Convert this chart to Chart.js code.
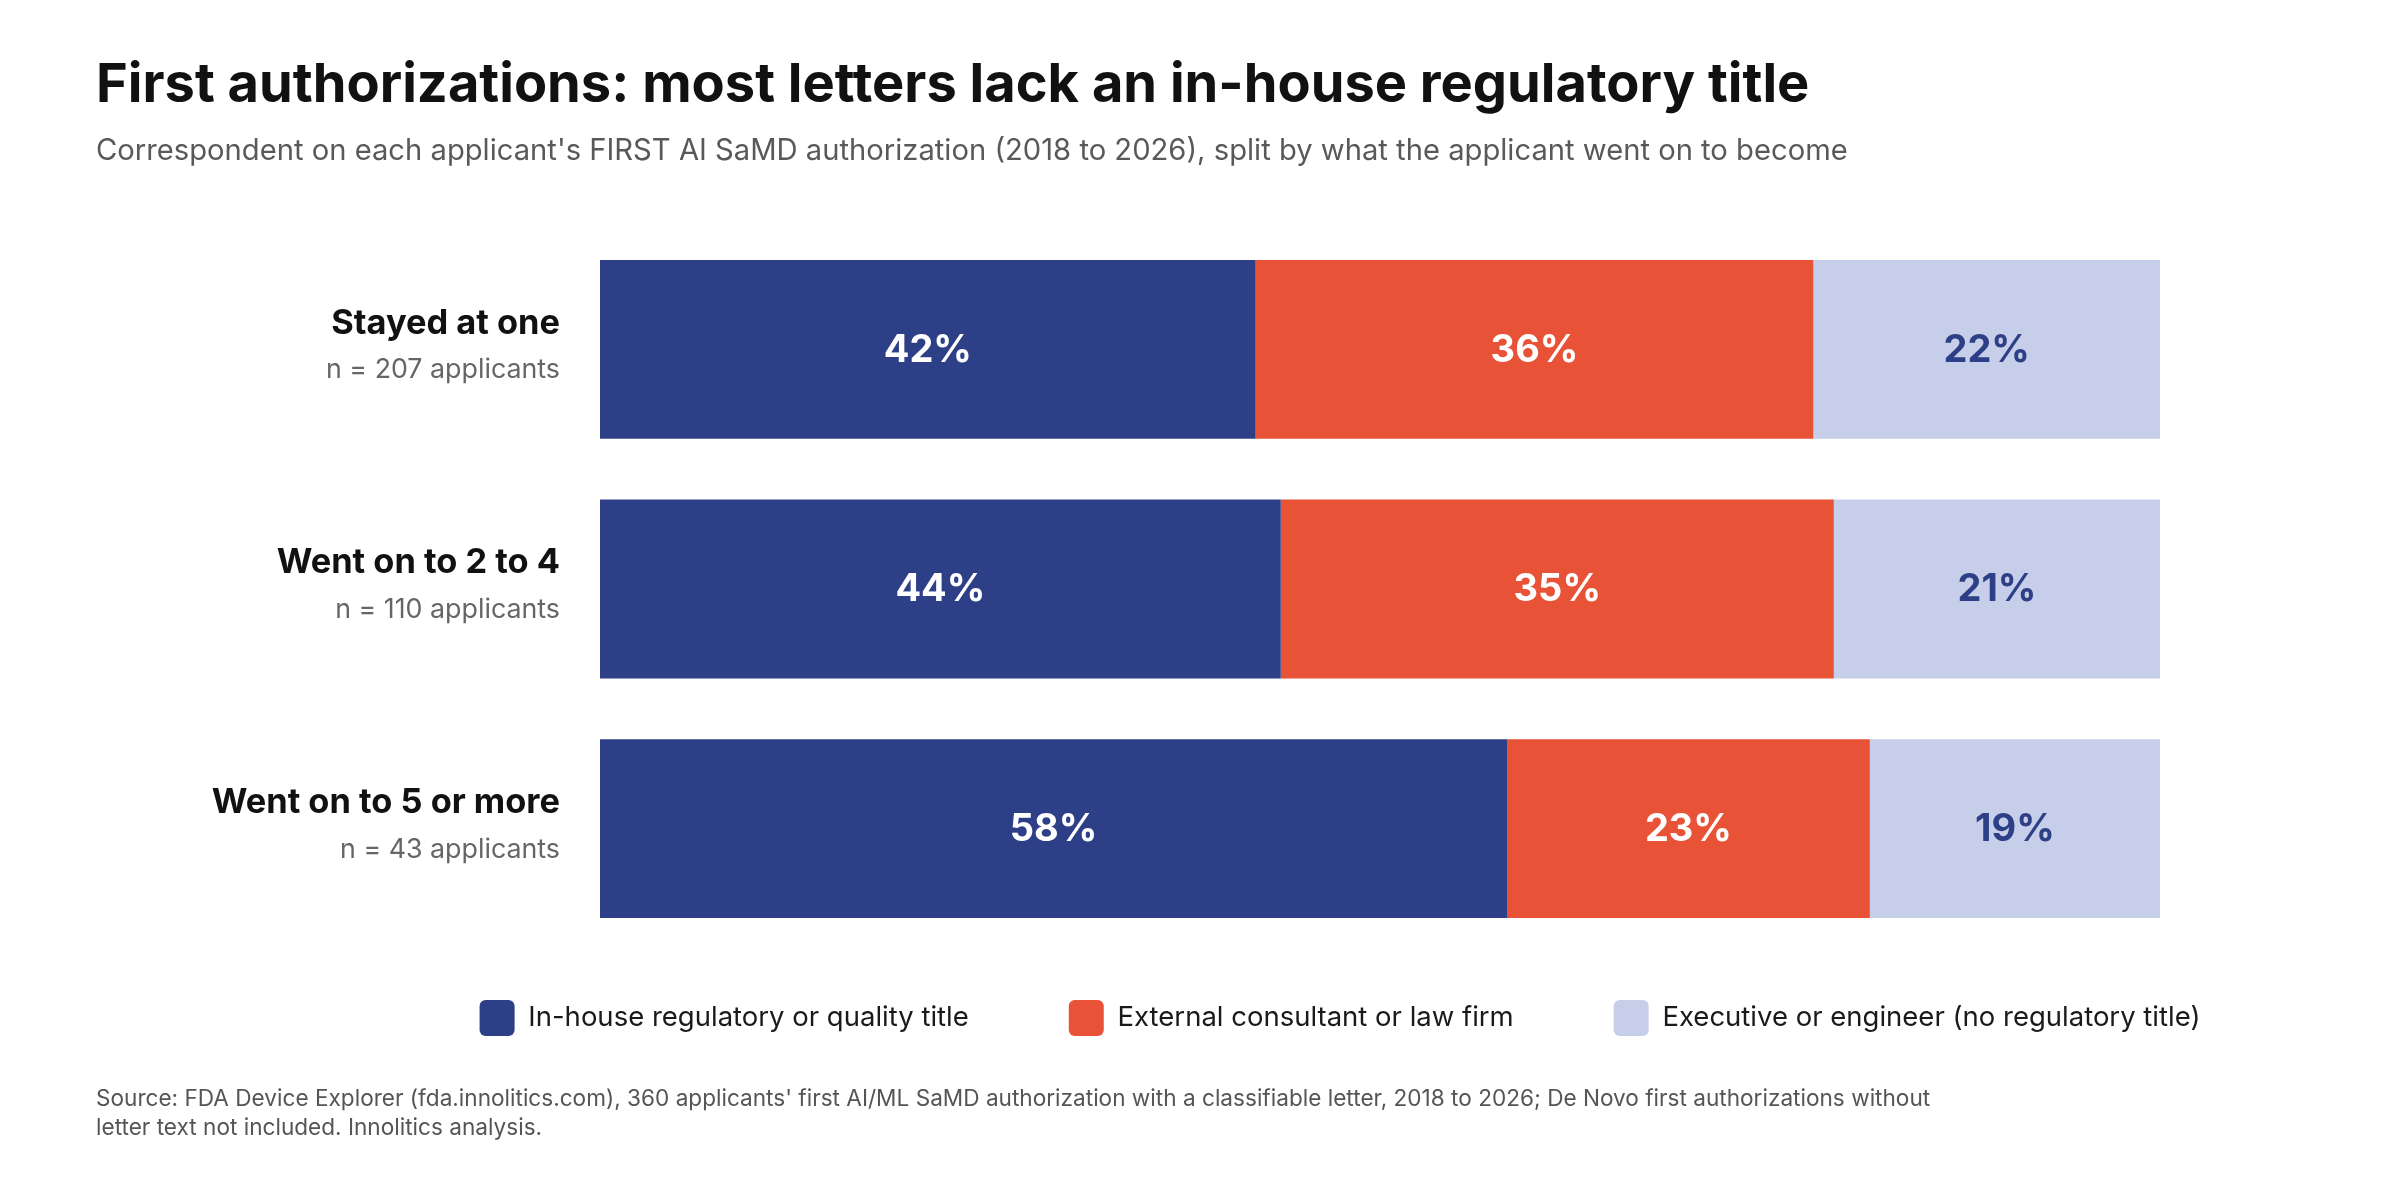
<!DOCTYPE html>
<html><head><meta charset="utf-8">
<script src="https://cdn.jsdelivr.net/npm/chart.js@4.4.1/dist/chart.umd.min.js"></script>
<style>html,body{margin:0;padding:0;background:#fff;} #wrap{width:2400px;height:1180px;position:relative;}</style>
</head><body><div id="wrap"><canvas id="c"></canvas></div>
<script>
const categories = ['Stayed at one', 'Went on to 2 to 4', 'Went on to 5 or more'];
const sampleLabels = ['n = 207 applicants', 'n = 110 applicants', 'n = 43 applicants'];
const seriesNames = ['In-house regulatory or quality title', 'External consultant or law firm', 'Executive or engineer (no regulatory title)'];
// shares in percent (labels show rounded values)
const inHouse = [42.03, 43.64, 58.14];
const external = [35.75, 35.45, 23.26];
const executive = [22.22, 20.91, 18.60];
const titleText = 'First authorizations: most letters lack an in-house regulatory title';
const subtitleText = "Correspondent on each applicant's FIRST AI SaMD authorization (2018 to 2026), split by what the applicant went on to become";
const sourceLines = [
  "Source: FDA Device Explorer (fda.innolitics.com), 360 applicants' first AI/ML SaMD authorization with a classifiable letter, 2018 to 2026; De Novo first authorizations without",
  "letter text not included. Innolitics analysis."
];

const FONT = 'Inter';
const NAVY = '#2D3F86', RED = '#E85236', LAV = '#C7CEEA';
function fit(text, weight, target) {
  const ctx = document.createElement('canvas').getContext('2d');
  ctx.font = weight + ' 100px "' + FONT + '"';
  return Math.round(1000 * target / ctx.measureText(text).width) / 10;
}
const titleSize = fit(titleText, 'bold', 1715);
const subSize = fit(subtitleText, 'normal', 1753);
const catSize = fit('Went on to 2 to 4', 'bold', 283);
const nSize = fit('n = 110 applicants', 'normal', 225);
const legendSize = fit(seriesNames[0], 'normal', 440);
const footSize = fit(sourceLines[0], 'normal', 1836);

const padTop = 30;
const tpt = 86 - padTop - titleSize * 0.6, tpb = 10;
const titleBottom = padTop + tpt + titleSize * 1.2 + tpb;
const spt = 151 - titleBottom - subSize * 0.6;
const spb = 229.5 - (titleBottom + spt + subSize * 1.2);

const legendPad = 100;
const legendBoxH = 36;
const legendHeight = legendBoxH + legendPad + 10;
const padBottom = 1180 - 948.5 - legendHeight;

const legendPlacePlugin = {
  id: 'legendPlace',
  afterLayout(chart) {
    const l = chart.legend;
    const dx = 1340 - (l.left + l.right) / 2;
    const dy = (l.top + legendPad) - 1000;
    l.left += dx; l.right += dx;
    l.top -= dy; l.bottom -= dy;
  }
};
const sampleLabelPlugin = {
  id: 'sampleLabels',
  afterDraw(chart) {
    const y = chart.scales.y, ctx = chart.ctx;
    ctx.save();
    ctx.font = 'normal ' + nSize + 'px "' + FONT + '"';
    ctx.fillStyle = '#666666';
    ctx.textAlign = 'right';
    ctx.textBaseline = 'middle';
    sampleLabels.forEach((t, i) => ctx.fillText(t, chart.chartArea.left - 40, y.getPixelForValue(i) + 21));
    ctx.restore();
  }
};
const barLabelPlugin = {
  id: 'barLabels',
  afterDatasetsDraw(chart) {
    const ctx = chart.ctx;
    const colors = ['#ffffff', '#ffffff', NAVY];
    ctx.save();
    ctx.font = 'bold 38px "' + FONT + '"';
    ctx.textAlign = 'center';
    ctx.textBaseline = 'middle';
    chart.data.datasets.forEach((ds, di) => {
      const meta = chart.getDatasetMeta(di);
      ctx.fillStyle = colors[di];
      meta.data.forEach((el, i) => {
        const p = el.getCenterPoint();
        ctx.fillText(Math.round(ds.data[i]) + '%', p.x, p.y + 1);
      });
    });
    ctx.restore();
  }
};
const footerPlugin = {
  id: 'footer',
  afterDraw(chart) {
    const ctx = chart.ctx;
    ctx.save();
    ctx.font = 'normal ' + footSize + 'px "' + FONT + '"';
    ctx.fillStyle = '#555555';
    ctx.textAlign = 'left';
    ctx.textBaseline = 'middle';
    sourceLines.forEach((t, i) => ctx.fillText(t, 96, chart.height - 81 + i * 29));
    ctx.restore();
  }
};

new Chart(document.getElementById('c'), {
  type: 'bar',
  data: {
    labels: categories,
    datasets: [
      { label: seriesNames[0], data: inHouse, backgroundColor: NAVY },
      { label: seriesNames[1], data: external, backgroundColor: RED },
      { label: seriesNames[2], data: executive, backgroundColor: LAV }
    ]
  },
  options: {
    indexAxis: 'y',
    responsive: true,
    maintainAspectRatio: false,
    animation: false,
    datasets: { bar: { borderWidth: 0, categoryPercentage: 1, barPercentage: 0.746 } },
    layout: { padding: { top: padTop, left: 96, right: 240, bottom: padBottom } },
    scales: {
      x: { stacked: true, min: 0, max: 100, display: false },
      y: {
        stacked: true,
        grid: { display: false, drawTicks: false },
        border: { display: false },
        ticks: {
          padding: 40,
          labelOffset: -26,
          color: '#111111',
          font: { family: FONT, weight: 'bold', size: catSize }
        },
        afterFit(scale) { scale.width = 504; }
      }
    },
    plugins: {
      title: {
        display: true, text: titleText, align: 'start', color: '#111111',
        font: { family: FONT, weight: 'bold', size: titleSize },
        padding: { top: tpt, bottom: tpb }
      },
      subtitle: {
        display: true, text: subtitleText, align: 'start', color: '#595959',
        font: { family: FONT, weight: 'normal', size: subSize },
        padding: { top: spt, bottom: spb }
      },
      legend: {
        position: 'bottom', fullSize: true,
        labels: {
          boxWidth: 35, boxHeight: legendBoxH, padding: legendPad, color: '#1a1a1a',
          useBorderRadius: true, borderRadius: 6,
          font: { family: FONT, size: legendSize }
        }
      },
      tooltip: { enabled: false }
    }
  },
  plugins: [legendPlacePlugin, sampleLabelPlugin, barLabelPlugin, footerPlugin]
});
</script>
</body></html>
